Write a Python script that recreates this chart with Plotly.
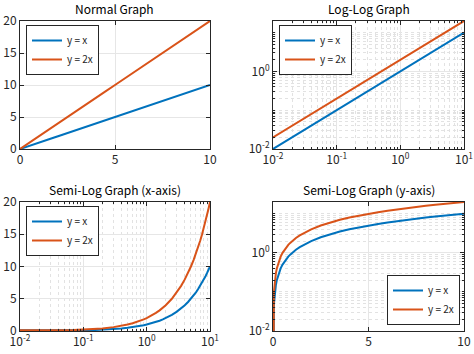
import math
import plotly.graph_objects as go

# ---- data ----
x_vals = [0, 0.01, 0.015, 0.02, 0.03, 0.04, 0.05, 0.07, 0.1, 0.15, 0.2, 0.3, 0.4, 0.5,
          0.6, 0.7, 0.8, 0.9, 1.0, 1.2, 1.4, 1.6, 1.8, 2.0, 2.5, 3.0, 3.5, 4.0, 4.5,
          5.0, 5.5, 6.0, 6.5, 7.0, 7.5, 8.0, 8.5, 9.0, 9.5, 10.0]
y_x = [0, 0.01, 0.015, 0.02, 0.03, 0.04, 0.05, 0.07, 0.1, 0.15, 0.2, 0.3, 0.4, 0.5,
       0.6, 0.7, 0.8, 0.9, 1.0, 1.2, 1.4, 1.6, 1.8, 2.0, 2.5, 3.0, 3.5, 4.0, 4.5,
       5.0, 5.5, 6.0, 6.5, 7.0, 7.5, 8.0, 8.5, 9.0, 9.5, 10.0]
y_2x = [0, 0.02, 0.03, 0.04, 0.06, 0.08, 0.1, 0.14, 0.2, 0.3, 0.4, 0.6, 0.8, 1.0,
        1.2, 1.4, 1.6, 1.8, 2.0, 2.4, 2.8, 3.2, 3.6, 4.0, 5.0, 6.0, 7.0, 8.0, 9.0,
        10.0, 11.0, 12.0, 13.0, 14.0, 15.0, 16.0, 17.0, 18.0, 19.0, 20.0]
series_names = ["y = x", "y = 2x"]
series_colors = ["#0072BD", "#D95319"]
titles = ["Normal Graph", "Log-Log Graph", "Semi-Log Graph (x-axis)", "Semi-Log Graph (y-axis)"]
lin_x_ticks = [0, 5, 10]
lin_y_ticks = [0, 5, 10, 15, 20]
logx_tickvals = [0.01, 0.1, 1, 10]
logx_ticktext = ["10<sup>-2</sup>", "10<sup>-1</sup>", "10<sup>0</sup>", "10<sup>1</sup>"]
logy_tickvals = [0.01, 1]
logy_ticktext = ["10<sup>-2</sup>", "10<sup>0</sup>"]

FONT = "Noto Sans CJK JP, Liberation Sans, sans-serif"
AXC = "#262626"
W, H = 474, 354

# subplot boxes in pixels (left, right, top, bottom)
boxes = [(20, 210, 21, 149), (273, 464, 21, 149), (20, 210, 202, 331), (273, 464, 202, 331)]
modes = [("lin", "lin"), ("log", "log"), ("log", "lin"), ("lin", "log")]
legend_pos = [("left", "top"), ("left", "top"), ("left", "top"), ("right", "bottom")]

minor_log = [m * 10 ** e for e in (-2, -1, 0, 1) for m in range(2, 10)] + [0.1, 10]

fig = go.Figure()
layout = dict(width=W, height=H, margin=dict(l=0, r=0, t=0, b=0),
              paper_bgcolor="white", plot_bgcolor="white",
              font=dict(family=FONT, size=11, color=AXC), annotations=[])


def axis_cfg(kind, which, domain, anchor):
    cfg = dict(domain=domain, anchor=anchor, showline=True, linecolor=AXC, linewidth=1,
               mirror="ticks", ticks="inside", ticklen=4, tickcolor=AXC,
               showgrid=True, gridcolor="#e6e6e6", gridwidth=1, zeroline=False,
               automargin=False,
               tickfont=dict(size=12, family=FONT, color=AXC), fixedrange=True)
    if kind == "lin":
        cfg.update(type="linear", range=[0, 10] if which == "x" else [0, 20],
                   tickmode="array", tickvals=lin_x_ticks if which == "x" else lin_y_ticks)
    else:
        if which == "x":
            cfg.update(type="log", range=[-2, 1], tickmode="array",
                       tickvals=logx_tickvals, ticktext=logx_ticktext)
        else:
            cfg.update(type="log", range=[-2, math.log10(20)], tickmode="array",
                       tickvals=logy_tickvals, ticktext=logy_ticktext)
        cfg["minor"] = dict(tickmode="array", tickvals=minor_log, showgrid=True,
                            griddash="dot", gridcolor="#e2e2e2", gridwidth=1,
                            ticks="inside", ticklen=2, tickcolor=AXC)
    return cfg


for i, ((l, r, t, b), (mx, my), (lx, ly)) in enumerate(zip(boxes, modes, legend_pos)):
    n = "" if i == 0 else str(i + 1)
    xd = [l / W, r / W]
    yd = [1 - b / H, 1 - t / H]
    layout["xaxis" + n] = axis_cfg(mx, "x", xd, "y" + n)
    layout["yaxis" + n] = axis_cfg(my, "y", yd, "x" + n)
    leg = "legend" + n
    for name, ys, col in zip(series_names, [y_x, y_2x], series_colors):
        fig.add_trace(go.Scatter(x=x_vals, y=ys, mode="lines", name=name,
                                 line=dict(color=col, width=2),
                                 xaxis="x" + n, yaxis="y" + n, legend=leg))
    if lx == "left":
        legx, xanc = xd[0] + 6 / W, "left"
    else:
        legx, xanc = xd[1] - 4 / W, "right"
    if ly == "top":
        legy, yanc = yd[1] - 4 / H, "top"
    else:
        legy, yanc = yd[0] + 6 / H, "bottom"
    layout[leg] = dict(x=legx, y=legy, xanchor=xanc, yanchor=yanc, xref="paper", yref="paper",
                       bgcolor="white", bordercolor=AXC, borderwidth=1,
                       font=dict(size=10, family=FONT, color=AXC),
                       itemwidth=30, tracegroupgap=0)
    layout["annotations"].append(dict(text=titles[i], x=(xd[0] + xd[1]) / 2, y=yd[1] + 2 / H,
                                      xref="paper", yref="paper", xanchor="center",
                                      yanchor="bottom", showarrow=False,
                                      font=dict(size=12, family=FONT, color="#000000")))

fig.update_layout(**layout)
fig.write_html("out.html")
